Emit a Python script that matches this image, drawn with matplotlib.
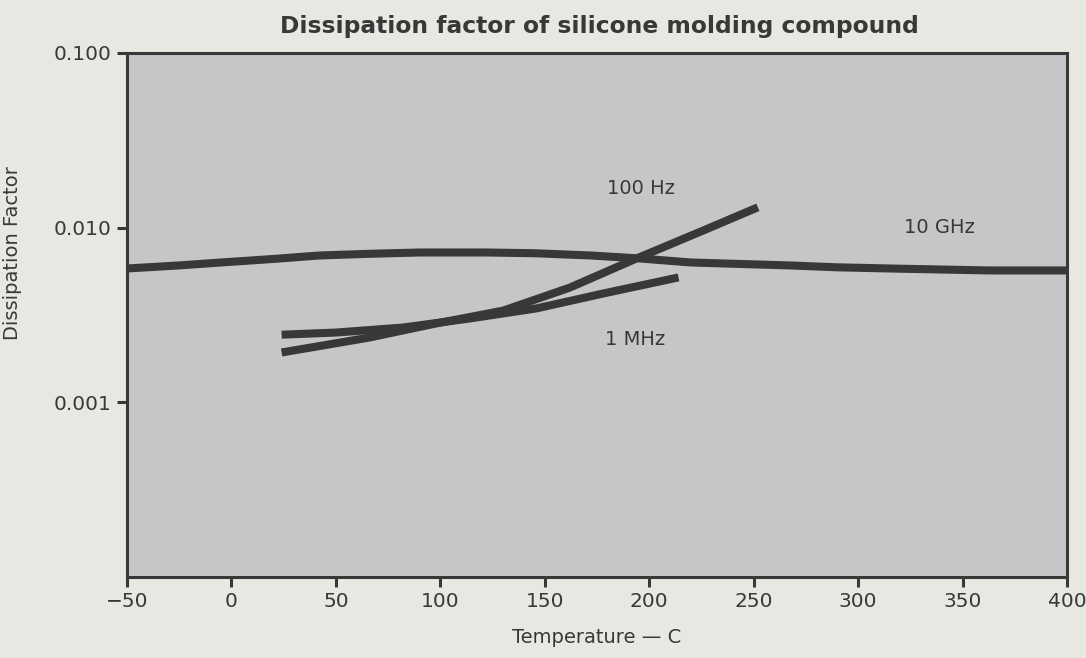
import numpy as np
import matplotlib.pyplot as plt
from matplotlib.ticker import FixedLocator, NullLocator

# temperature (C) and dissipation factor
t_10ghz = [-50, -25, -5, 20, 42, 65, 90, 122, 145, 172, 195, 220,
           245, 267, 290, 315, 340, 363, 400]
df_10ghz = [0.00584, 0.00608, 0.00632, 0.00662, 0.00693, 0.00708, 0.00721,
            0.00721, 0.00714, 0.00693, 0.00667, 0.00632, 0.00619, 0.00608,
            0.00593, 0.00584, 0.00576, 0.00569, 0.00569]

t_100hz = [24, 66, 98, 130, 162, 194, 226, 252]
df_100hz = [0.00193, 0.00235, 0.00283, 0.00335, 0.00454, 0.00667, 0.00965, 0.01308]

t_1mhz = [24, 50, 82, 114, 146, 178, 214]
df_1mhz = [0.00244, 0.00251, 0.00268, 0.00302, 0.00345, 0.00420, 0.00519]

x_ticks = [-50, 0, 50, 100, 150, 200, 250, 300, 350, 400]
y_ticks = [0.001, 0.01, 0.1]
y_labels = ["0.001", "0.010", "0.100"]

ink = "#383838"
plt.rcParams['font.family'] = ['DejaVu Sans']

fig = plt.figure(figsize=(10.86, 6.58), dpi=100, facecolor="#e8e7e2")
ax = fig.add_axes([0.117, 0.123, 0.8655, 0.7965])
ax.set_facecolor("#c4c6c7")

lw = 5.8
for t, d in [(t_10ghz, df_10ghz), (t_100hz, df_100hz), (t_1mhz, df_1mhz)]:
    ax.plot(t, d, color=ink, lw=lw, solid_capstyle='butt', solid_joinstyle='round')

ax.set_yscale('log')
ax.set_xlim(-50, 400)
ax.set_ylim(0.0001, 0.1)
ax.xaxis.set_major_locator(FixedLocator(x_ticks))
ax.xaxis.set_minor_locator(NullLocator())
ax.yaxis.set_major_locator(FixedLocator(y_ticks))
ax.yaxis.set_minor_locator(NullLocator())
ax.set_xticklabels(["\u221250"] + [str(v) for v in x_ticks[1:]])
ax.set_yticklabels(y_labels)
ax.tick_params(axis='both', direction='out', length=7, width=2.2, color=ink,
               labelcolor=ink, labelsize=14.5, pad=4)

for s in ax.spines.values():
    s.set_color(ink)
    s.set_linewidth(2.2)

ax.text(196, 0.0168, "100 Hz", fontsize=14, color=ink, ha='center', va='center')
ax.text(339, 0.0100, "10 GHz", fontsize=14, color=ink, ha='center', va='center')
ax.text(193, 0.00229, "1 MHz", fontsize=14, color=ink, ha='center', va='center')

fig.text(0.552, 0.96, "Dissipation factor of silicone molding compound",
         fontsize=16.8, fontweight='bold', color=ink, ha='center', va='center')
ax.set_xlabel("Temperature \u2014 C", fontsize=14, color=ink, labelpad=12)
ax.set_ylabel("Dissipation Factor", fontsize=14, color=ink)
ax.yaxis.set_label_coords(-0.112, 0.618)

fig.savefig("out.png", dpi=100, facecolor=fig.get_facecolor())
